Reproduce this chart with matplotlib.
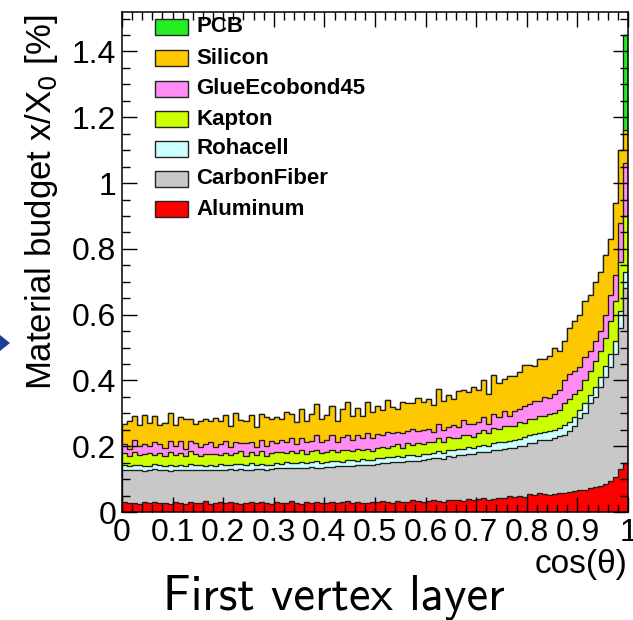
import numpy as np
import matplotlib
matplotlib.use("Agg")
import matplotlib.pyplot as plt
from matplotlib.patches import Rectangle, Polygon
from matplotlib.ticker import MultipleLocator, FixedLocator

# ---------------- data (material budget per cos(theta) bin, in % X0) ----------------
n_bins = 100
x_min, x_max = 0.0, 1.0

aluminum = [
    .030, .026, .028, .025, .029, .027, .031, .026, .028, .024,
    .029, .027, .025, .030, .026, .028, .032, .025, .027, .029,
    .026, .030, .027, .024, .028, .031, .026, .029, .027, .025,
    .030, .026, .028, .033, .027, .025, .029, .027, .031, .026,
    .028, .030, .026, .029, .032, .027, .030, .028, .026, .031,
    .029, .033, .030, .028, .034, .031, .029, .035, .032, .030,
    .034, .036, .033, .031, .037, .035, .038, .034, .040, .036,
    .039, .042, .038, .041, .044, .043, .048, .045, .050, .047,
    .055, .052, .058, .056, .053,
    .055, .058, .058, .062, .065, .067, .068, .072, .077, .080,
    .085, .095, .105, .130, .150]

carbon_fiber = [
    .098, .102, .100, .104, .097, .101, .099, .103, .100, .102,
    .099, .101, .104, .098, .102, .100, .097, .103, .101, .099,
    .103, .100, .102, .106, .101, .098, .104, .102, .100, .105,
    .103, .107, .105, .102, .108, .110, .106, .109, .104, .108,
    .110, .108, .113, .111, .107, .114, .112, .115, .118, .113,
    .118, .116, .120, .123, .119, .122, .125, .121, .124, .127,
    .126, .129, .132, .130, .134, .133, .136, .138, .135, .140,
    .142, .140, .145, .147, .144, .149, .147, .150, .152, .155,
    .155, .158, .160, .162, .165,
    .170, .172, .177, .183, .195, .218, .232, .258, .273, .300,
    .325, .345, .375, .430, .530]

rohacell = [
    .014, .012, .016, .013, .015, .011, .017, .014, .012, .016,
    .013, .015, .012, .018, .014, .016, .011, .015, .013, .017,
    .014, .012, .016, .015, .013, .019, .012, .015, .017, .014,
    .016, .013, .018, .015, .014, .017, .013, .016, .019, .015,
    .014, .017, .015, .013, .018, .016, .014, .017, .015, .013,
    .016, .014, .018, .015, .017, .013, .019, .016, .014, .018,
    .017, .015, .020, .018, .016, .021, .017, .019, .022, .018,
    .020, .023, .019, .021, .025, .020, .022, .024, .021, .026,
    .024, .027, .023, .026, .028,
    .025, .025, .030, .030, .030, .025, .030, .025, .030, .030,
    .035, .040, .040, .050, .050]

kapton = [
    .036, .029, .039, .031, .034, .040, .027, .035, .030, .041,
    .031, .036, .028, .038, .033, .027, .037, .032, .035, .029,
    .037, .030, .034, .039, .028, .035, .031, .038, .027, .034,
    .032, .037, .029, .035, .030, .038, .028, .034, .036, .030,
    .029, .034, .027, .036, .031, .027, .037, .029, .033, .028,
    .031, .036, .028, .034, .038, .029, .036, .031, .039, .033,
    .037, .032, .040, .034, .042, .036, .033, .043, .037, .035,
    .040, .045, .038, .047, .040, .049, .043, .041, .050, .044,
    .049, .046, .052, .048, .051,
    .050, .055, .065, .070, .070, .060, .070, .075, .080, .080,
    .085, .100, .120, .150, .170]

glue_ecobond45 = [
    .030, .024, .036, .027, .033, .022, .038, .029, .025, .034,
    .028, .037, .024, .031, .035, .026, .030, .039, .023, .032,
    .036, .027, .033, .025, .040, .029, .026, .035, .031, .038,
    .029, .036, .032, .041, .027, .034, .038, .030, .043, .033,
    .037, .044, .031, .040, .046, .035, .042, .036, .048, .039,
    .043, .036, .047, .040, .034, .045, .038, .050, .037, .042,
    .039, .032, .044, .036, .030, .041, .035, .046, .033, .038,
    .034, .040, .029, .043, .036, .045, .032, .048, .039, .050,
    .046, .054, .043, .058, .050,
    .060, .060, .070, .075, .070, .070, .070, .060, .060, .060,
    .070, .080, .080, .120, .160]

silicon = [
    .060, .085, .074, .066, .088, .070, .080, .058, .077, .083,
    .064, .072, .089, .067, .059, .081, .075, .063, .086, .070,
    .078, .062, .090, .071, .066, .084, .058, .079, .087, .068,
    .080, .065, .092, .073, .068, .088, .064, .083, .095, .071,
    .077, .090, .066, .085, .099, .072, .081, .068, .094, .079,
    .086, .074, .097, .080, .070, .093, .083, .077, .101, .085,
    .092, .081, .104, .088, .097, .079, .108, .091, .099, .112,
    .095, .110, .089, .118, .102, .097, .121, .106, .114, .125,
    .118, .107, .130, .115, .128,
    .140, .120, .120, .140, .150, .160, .170, .170, .180, .180,
    .180, .170, .220, .220, .100]

pcb = [0.0] * 99 + [0.29]

# stacking order, bottom -> top
materials = ["Aluminum", "CarbonFiber", "Rohacell", "Kapton",
             "GlueEcobond45", "Silicon", "PCB"]
values = [aluminum, carbon_fiber, rohacell, kapton, glue_ecobond45, silicon, pcb]
colors = ["#ff0000", "#c8c8c8", "#ccffff", "#ccff00", "#ff8cf2", "#fdc800", "#22ee22"]

x_ticks = [0, 0.1, 0.2, 0.3, 0.4, 0.5, 0.6, 0.7, 0.8, 0.9, 1.0]
x_tick_labels = ["0", "0.1", "0.2", "0.3", "0.4", "0.5", "0.6", "0.7", "0.8", "0.9", "1"]
y_ticks = [0, 0.2, 0.4, 0.6, 0.8, 1.0, 1.2, 1.4]
y_tick_labels = ["0", "0.2", "0.4", "0.6", "0.8", "1", "1.2", "1.4"]

# ---------------- figure ----------------
W, H = 633, 620
fig = plt.figure(figsize=(W / 100, H / 100), dpi=100)
L, R, B, T = 122, 628, 512, 12
ax = fig.add_axes([L / W, (H - B) / H, (R - L) / W, (B - T) / H])

edges = np.linspace(x_min, x_max, n_bins + 1)
cum = np.cumsum(np.array(values, dtype=float), axis=0)
for i in range(len(materials) - 1, -1, -1):
    ax.stairs(cum[i], edges, baseline=0, fill=True, facecolor=colors[i],
              edgecolor="#1e1e1e", linewidth=0.95, zorder=1 + (len(materials) - i) * 0.01)

ax.set_xlim(x_min, x_max)
ax.set_ylim(0, 1.52)

tick_font = dict(family=["Liberation Sans", "DejaVu Sans"], size=23)
ax.xaxis.set_major_locator(FixedLocator(x_ticks))
ax.set_xticklabels(x_tick_labels, fontdict=tick_font)
ax.yaxis.set_major_locator(FixedLocator(y_ticks))
ax.set_yticklabels(y_tick_labels, fontdict=tick_font)
ax.xaxis.set_minor_locator(MultipleLocator(0.02))
ax.yaxis.set_minor_locator(MultipleLocator(0.05))
ax.tick_params(which="both", direction="in", top=True, right=True, width=1.0, color="black")
ax.tick_params(which="major", length=11)
ax.tick_params(which="minor", length=5.5)
ax.tick_params(axis="x", which="major", pad=4)
ax.tick_params(axis="y", which="major", pad=4)
for sp in ax.spines.values():
    sp.set_linewidth(1.1)
    sp.set_zorder(5)

# axis titles (ROOT style, right/top aligned)
fig.text(42 / W, 1 - 14 / H, "Material budget x/X$_0$ [%]", rotation=90,
         ha="center", va="top", family=["Liberation Sans", "DejaVu Sans"], size=25)
fig.text(627 / W, 1 - 565 / H, "cos(θ)", ha="right", va="center",
         family=["Liberation Sans", "DejaVu Sans"], size=24)
fig.text(334 / W, 1 - 610 / H, "First vertex layer", ha="center", va="baseline",
         family=["cmss10", "DejaVu Sans"], size=35)

# legend (top to bottom: reverse of stacking)
leg_y = [27, 58, 89, 119, 149, 179, 209]
for k, idx in enumerate(range(len(materials) - 1, -1, -1)):
    yc = leg_y[k]
    fig.patches.append(Rectangle((155 / W, 1 - (yc + 8) / H), 33 / W, 16 / H,
                                 transform=fig.transFigure, facecolor=colors[idx],
                                 edgecolor="#222222", linewidth=1.0))
    fig.text(196 / W, 1 - yc / H, materials[idx], ha="left", va="center",
             family=["Liberation Sans", "DejaVu Sans"], weight="bold", size=16)

# partial arrow from neighbouring panel
fig.patches.append(Polygon([(0, 1 - 335 / H), (10 / W, 1 - 343 / H), (0, 1 - 351 / H)],
                           closed=True, transform=fig.transFigure,
                           facecolor="#1f3c99", edgecolor="none"))

fig.savefig("out.png", dpi=100)
